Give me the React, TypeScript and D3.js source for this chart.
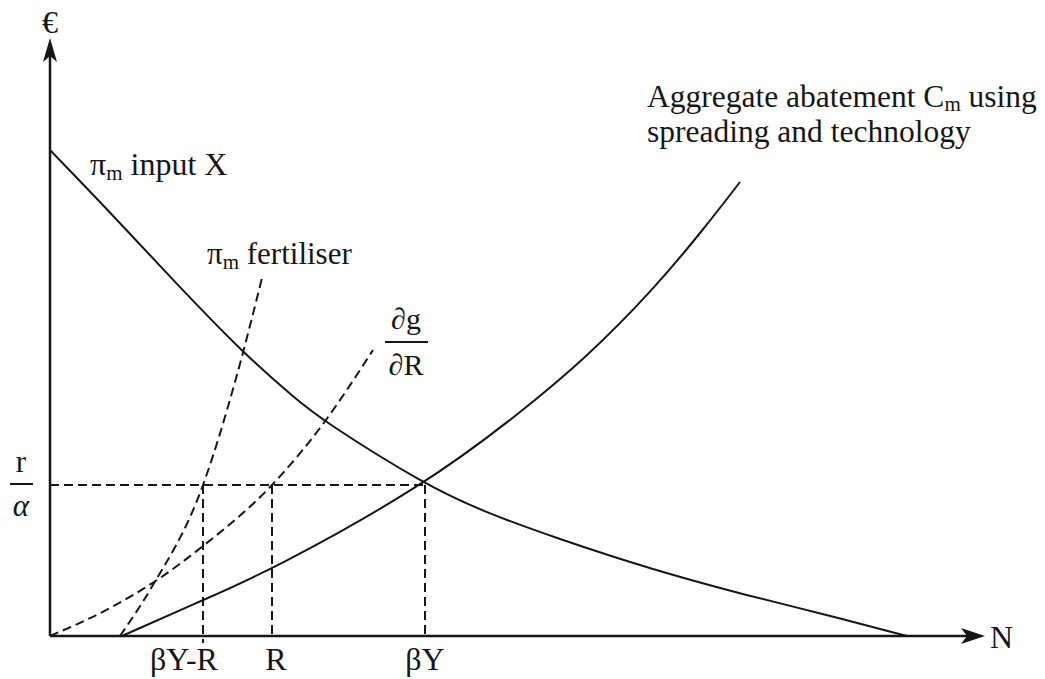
import * as d3 from 'd3';

const W = 1045;
const H = 679;

// axis extents (N on x, € on y)
const N_MAX = 935;
const EUR_MAX = 598;

// curves: [N, €]
const inputX: [number, number][] = [
  [0, 486], [57, 427], [123, 356], [193, 283], [247, 236], [272, 216], [375, 151],
  [437, 123], [503, 99], [603, 66], [703, 39], [770, 23], [857, 0],
];
const aggregate: [number, number][] = [
  [72, 0], [153, 36], [222, 66], [375, 151], [470, 223], [537, 279], [603, 346], [653, 406], [690, 454],
];
const fertiliser: [number, number][] = [
  [70, 0], [100, 46], [153, 151], [185, 254], [212, 358],
];
const dgdR: [number, number][] = [
  [0, 0], [60, 28], [107, 56], [153, 90], [222, 151], [270, 208], [323, 286],
];

const R_ALPHA = 151;
const N_MARKS = ['βY-R', 'R', 'βY'];
const N_MARK_VALUES = [153, 222, 375];
const N_MARK_LABEL_AT = [134, 226, 375];

const FONT = '"Liberation Serif", "Times New Roman", serif';
const INK = '#161616';

export default function App() {
  const x = d3.scaleLinear().domain([0, N_MAX]).range([50, 985]);
  const y = d3.scaleLinear().domain([0, EUR_MAX]).range([636, 38]);

  const smooth = d3.line<[number, number]>()
    .x(d => x(d[0]))
    .y(d => y(d[1]))
    .curve(d3.curveBasis);
  const line = d3.line<[number, number]>()
    .x(d => x(d[0]))
    .y(d => y(d[1]))
    .curve(d3.curveMonotoneX);

  const x0 = x(0);
  const y0 = y(0);
  const xEnd = x(N_MAX);
  const yEnd = y(EUR_MAX);
  const yR = y(R_ALPHA);

  // arrowheads
  const upArrow = `M${x0},${yEnd} L${x0 + 7},${yEnd + 24} L${x0},${yEnd + 18} L${x0 - 7},${yEnd + 24} Z`;
  const rightArrow = `M${xEnd},${y0} L${xEnd - 24},${y0 - 8} L${xEnd - 18},${y0} L${xEnd - 24},${y0 + 8} Z`;

  const dash = '9 5';

  return (
    <svg width={W} height={H} style={{ position: 'absolute', left: 0, top: 0, background: '#fff' }}
      fontFamily={FONT} fill={INK}>
      {/* axes */}
      <line x1={x0} y1={y0} x2={x0} y2={yEnd + 10} stroke={INK} strokeWidth={2.5} />
      <line x1={x0} y1={y0} x2={xEnd - 10} y2={y0} stroke={INK} strokeWidth={2.5} />
      <path d={upArrow} fill={INK} />
      <path d={rightArrow} fill={INK} />
      <text x={x0} y={33} fontSize={32} textAnchor="middle">€</text>
      <text x={990} y={648} fontSize={32}>N</text>

      {/* guide lines */}
      <line x1={x0} y1={yR} x2={x(N_MARK_VALUES[2])} y2={yR} stroke={INK} strokeWidth={2} strokeDasharray={dash} />
      {N_MARK_VALUES.map((v, i) => (
        <line key={i} x1={x(v)} y1={yR} x2={x(v)} y2={i === 0 ? y0 + 7 : y0}
          stroke={INK} strokeWidth={2} strokeDasharray={dash} />
      ))}
      {N_MARKS.map((m, i) => (
        <text key={m} x={x(N_MARK_LABEL_AT[i])} y={670} fontSize={32} textAnchor="middle">{m}</text>
      ))}

      {/* curves */}
      <path d={smooth(inputX) ?? ''} fill="none" stroke={INK} strokeWidth={2} />
      <path d={smooth(aggregate) ?? ''} fill="none" stroke={INK} strokeWidth={2} />
      <path d={line(fertiliser) ?? ''} fill="none" stroke={INK} strokeWidth={2} strokeDasharray={dash} />
      <path d={line(dgdR) ?? ''} fill="none" stroke={INK} strokeWidth={2} strokeDasharray={dash} />

      {/* r / alpha */}
      <text x={21} y={472} fontSize={31} textAnchor="middle">r</text>
      <line x1={10} y1={yR - 1} x2={33} y2={yR - 1} stroke={INK} strokeWidth={2} />
      <text x={21} y={516} fontSize={31} textAnchor="middle" fontStyle="italic">α</text>

      {/* curve labels */}
      <text x={90} y={175} fontSize={32}>
        π<tspan fontSize={21} dy={5}>m</tspan><tspan dy={-5}> input X</tspan>
      </text>
      <text x={207} y={264} fontSize={31}>
        π<tspan fontSize={21} dy={5}>m</tspan><tspan dy={-5}> fertiliser</tspan>
      </text>
      <text x={406} y={329} fontSize={30} textAnchor="middle">∂g</text>
      <line x1={385} y1={342} x2={428} y2={342} stroke={INK} strokeWidth={2} />
      <text x={406} y={375} fontSize={30} textAnchor="middle">∂R</text>

      <text x={647} y={107} fontSize={31.5}>
        Aggregate abatement C<tspan fontSize={21} dy={4}>m</tspan><tspan dy={-4}> using</tspan>
      </text>
      <text x={647} y={142} fontSize={31.5}>spreading and technology</text>
    </svg>
  );
}
